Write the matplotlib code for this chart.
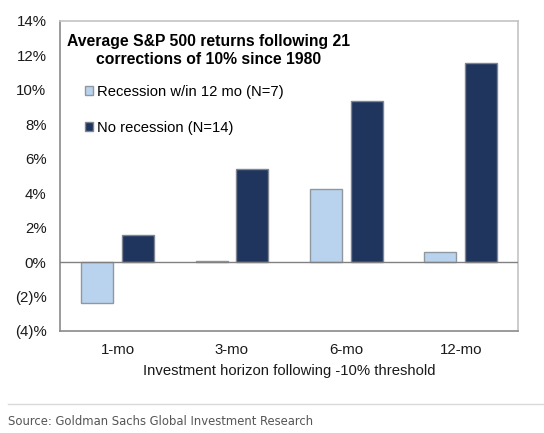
import numpy as np
import matplotlib.pyplot as plt
from matplotlib.ticker import FuncFormatter
from matplotlib.lines import Line2D

plt.rcParams['font.family'] = ['Liberation Sans', 'DejaVu Sans']

# data (percent)
horizons = ["1-mo", "3-mo", "6-mo", "12-mo"]
recession = [-2.37, 0.05, 4.27, 0.58]
no_recession = [1.55, 5.40, 9.38, 11.53]
labels = ["Recession w/in 12 mo (N=7)", "No recession (N=14)"]

light = "#b9d3ee"
dark = "#1f355e"

fig = plt.figure(figsize=(5.44, 4.33), dpi=100)
ax = fig.add_axes([0.1108, 0.2356, 0.8414, 0.716])

x = np.arange(len(horizons))
w = 0.28
off = 0.178
ax.bar(x - off, recession, w, color=light, edgecolor="#8f979f", linewidth=1.0,
       label=labels[0], zorder=2)
ax.bar(x + off, no_recession, w, color=dark, edgecolor="#7f8591", linewidth=1.0,
       label=labels[1], zorder=2)

ax.axhline(0, color="#808080", linewidth=1.0, zorder=3)

ax.set_xlim(-0.5, 3.5)
ax.set_ylim(-4, 14)
ax.set_yticks(np.arange(-4, 15, 2))


def pct(v, pos):
    v = int(round(v))
    if v < 0:
        return "(%d)%%" % abs(v)
    return "%d%%" % v


ax.yaxis.set_major_formatter(FuncFormatter(pct))
ax.set_xticks(x)
ax.set_xticklabels(horizons)
ax.tick_params(axis="y", length=0, pad=10, labelsize=10.8, colors="#1a1a1a")
ax.tick_params(axis="x", length=0, pad=9, labelsize=10.8, colors="#1a1a1a")
ax.set_xlabel("Investment horizon following -10% threshold", fontsize=10.7,
              labelpad=5, color="#1a1a1a")

for s in ["left", "bottom"]:
    ax.spines[s].set_color("#8a8a8a")
    ax.spines[s].set_linewidth(1.2)
for s in ["top", "right"]:
    ax.spines[s].set_color("#c4c4c4")
    ax.spines[s].set_linewidth(1.2)

ax.text(0.323, 0.905, "Average S&P 500 returns following 21\ncorrections of 10% since 1980",
        transform=ax.transAxes, ha="center", va="center", multialignment="center",
        fontsize=11.3, fontweight="bold", linespacing=1.2)

ax.legend(loc="upper left", bbox_to_anchor=(0.054, 0.795), frameon=False,
          fontsize=10.6, borderpad=0, borderaxespad=0, labelspacing=1.5,
          handlelength=0.55, handleheight=0.55, handletextpad=0.25)

# footer
fig.add_artist(Line2D([8 / 544, 1.0], [0.0663, 0.0663], color="#d9d9d9", linewidth=1.0))
fig.text(8 / 544, 0.0263, "Source: Goldman Sachs Global Investment Research",
         fontsize=9.3, color="#555555", ha="left", va="center",
         family="DejaVu Sans", stretch="condensed")

fig.savefig("out.png", dpi=100)
